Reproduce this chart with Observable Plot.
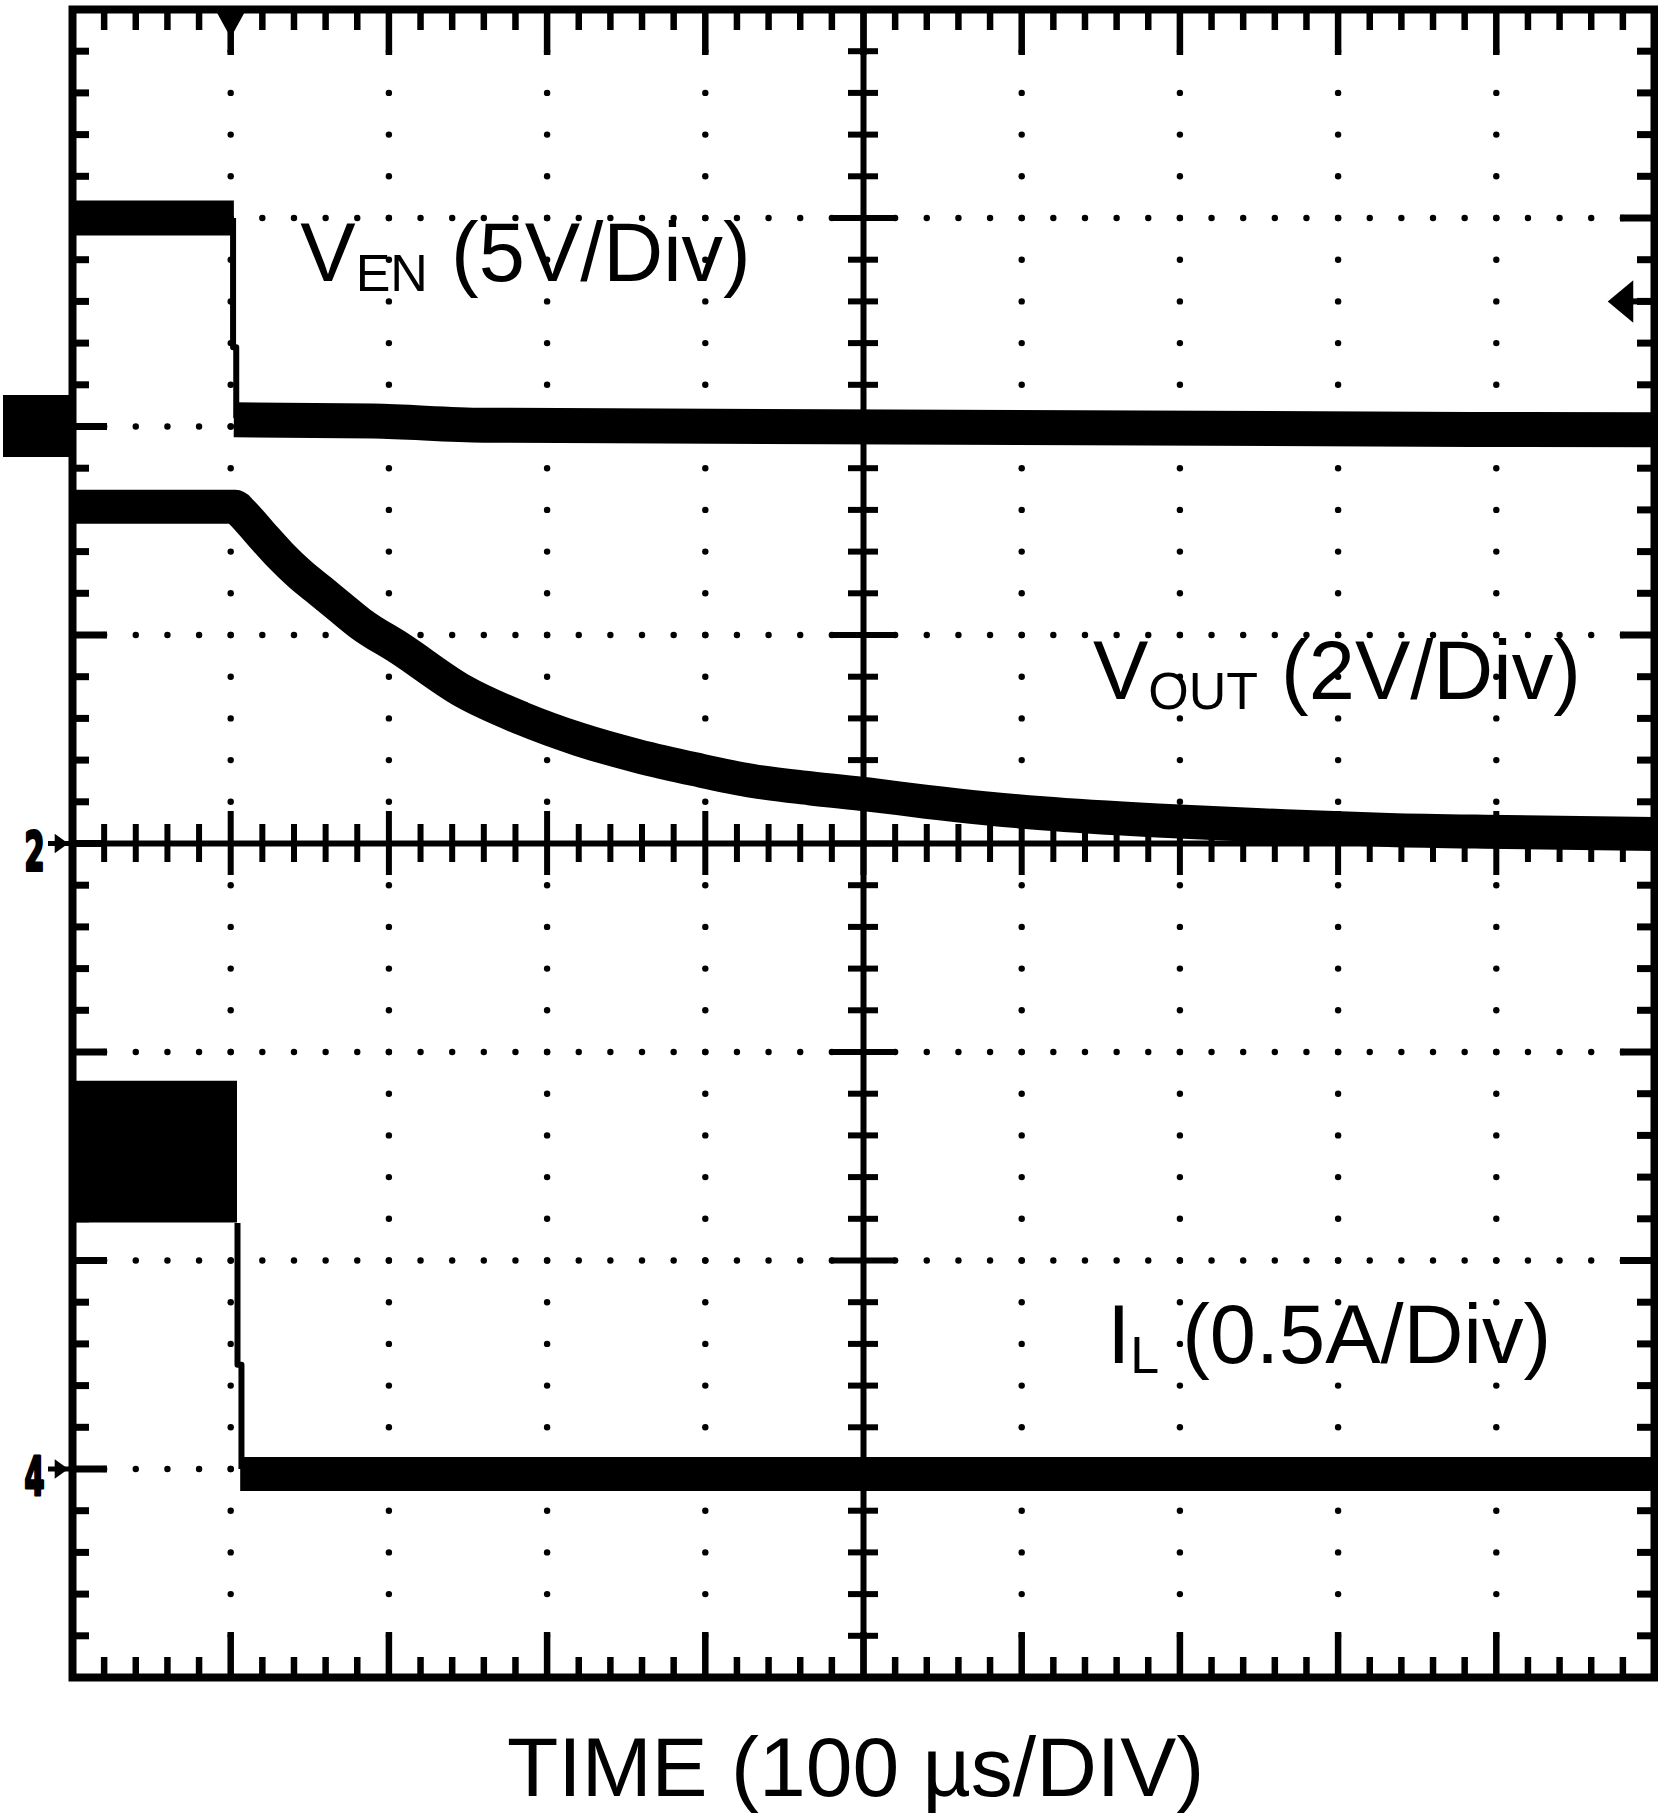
<!DOCTYPE html>
<html>
<head>
<meta charset="utf-8">
<script src="https://cdn.jsdelivr.net/npm/d3@7"></script>
<script src="https://cdn.jsdelivr.net/npm/@observablehq/plot@0.6"></script>
<style>
  html, body { margin: 0; padding: 0; background: #fff; }
  #chart svg { display: block; }
</style>
</head>
<body>
<div id="chart"></div>
<script>
// ---------------- data ----------------
// time axis: 100 µs/div, 10 divisions; vertical: 8 divisions
const timeSpanUs = 1000;
const divisionsY = 8;
const minorPerDiv = 5;

// channel markers (ground levels, in divisions from the centre line)
const channelNames = ["1", "2", "4"];
const channelGroundDiv = [2, 0, -3];
const channelPerDiv = [5, 2, 0.5];        // V/div, V/div, A/div
const triggerTimeUs = 100;
const triggerLevelV = 3.0;                // on channel 1 (VEN)

// VEN (V)
const vEnHighT = [0, 102];
const vEnHighV = [5.0, 5.0];
const vEnFallT = [101.5, 101.5, 103.5, 103.5];
const vEnFallV = [5.0, 1.9, 1.9, 0.2];
const vEnLowT = [102, 190, 260, 1000];
const vEnLowV = [0.16, 0.13, 0.03, -0.08];

// VOUT (V)
const vOutT = [0, 103, 106, 119, 131, 144, 157, 169, 182, 207, 247, 284, 320, 357, 394, 430, 466, 503, 540, 576, 613, 686, 760, 832, 906, 1000];
const vOutV = [3.23, 3.23, 3.19, 2.97, 2.77, 2.58, 2.42, 2.27, 2.11, 1.87, 1.46, 1.20, 1.00, 0.84, 0.71, 0.60, 0.53, 0.47, 0.40, 0.34, 0.29, 0.22, 0.17, 0.13, 0.11, 0.09];

// IL (A): ripple envelope while switching, then zero
const iLHighT = [0, 104.3];
const iLHighMin = [0.59, 0.59];
const iLHighMax = [0.93, 0.93];
const iLFallT = [104.3, 104.3, 106.8, 106.8];
const iLFallA = [0.59, 0.25, 0.25, 0.0];
const iLLowT = [106, 1000];
const iLLowA = [-0.012, -0.012];

// labels
const traceLabelMain = ["V", "V", "I"];
const traceLabelSub = ["EN", "OUT", "L"];
const traceLabelRest = [" (5V/Div)", " (2V/Div)", " (0.5A/Div)"];
const traceLabelT = [144, 645, 654];
const traceLabelDiv = [2.70, 0.695, -2.494];
const xTitle = "TIME (100 µs/DIV)";

// ---------------- layout ----------------
const W = 1658, H = 1815;
const mL = 72, mR = 4, mT = 9, mB = 138;
const pxX = (W - mL - mR) / timeSpanUs;   // px per µs
const pxY = (H - mT - mB) / divisionsY;   // px per division
const usPerDiv = timeSpanUs / 10;

const rows = (T, V) => T.map((t, i) => ({t, v: V[i]}));
const toDiv = ch => d => d.v / channelPerDiv[ch] + channelGroundDiv[ch];

const minorX = d3.range(0, 10 * minorPerDiv + 1).map(i => i * usPerDiv / minorPerDiv);
const minorY = d3.range(0, divisionsY * minorPerDiv + 1).map(i => -4 + i / minorPerDiv);
const innerX = minorX.filter(x => x > 0 && x < timeSpanUs);
const innerY = minorY.filter(y => y > -4 + 1e-9 && y < 4 - 1e-9);
const isMajorX = x => Math.abs(x / usPerDiv - Math.round(x / usPerDiv)) < 1e-6;
const isMajorY = y => Math.abs(y - Math.round(y)) < 1e-6;

const gridX = innerX.filter(isMajorX).filter(x => x !== timeSpanUs / 2);
const gridY = innerY.filter(isMajorY).filter(y => Math.abs(y) > 1e-9);
const gridDots = [];
for (const gx of gridX) for (const y of innerY) gridDots.push({x: gx, y});
for (const gy of gridY) for (const x of innerX) gridDots.push({x, y: gy});

// custom marker symbols
const triDown = {draw(c, size) { const s = Math.sqrt(size); c.moveTo(-0.55*s, -0.5*s); c.lineTo(0.55*s, -0.5*s); c.lineTo(0, 0.5*s); c.closePath(); }};
const triLeft = {draw(c, size) { const s = Math.sqrt(size); c.moveTo(-0.3*s, 0); c.lineTo(0.3*s, -0.5*s); c.lineTo(0.3*s, 0.5*s); c.closePath(); }};
const triRight = {draw(c, size) { const s = Math.sqrt(size); c.moveTo(0.35*s, 0); c.lineTo(-0.35*s, -0.5*s); c.lineTo(-0.35*s, 0.5*s); c.closePath(); }};

const markerRows = channelNames.map((name, i) => ({name, level: channelGroundDiv[i]}));
const boxMarker = markerRows.filter(d => d.name === "1");
const digitMarkers = markerRows.filter(d => d.name !== "1");
const labelRows = traceLabelMain.map((m, i) => ({text: m + traceLabelSub[i] + traceLabelRest[i], t: traceLabelT[i], y: traceLabelDiv[i]}));
const trigDiv = triggerLevelV / channelPerDiv[0] + channelGroundDiv[0];

const px2us = p => p / pxX;
const px2div = p => p / pxY;
const font = "'Liberation Sans', Arial, Helvetica, sans-serif";

const svg = Plot.plot({
  width: W, height: H,
  marginLeft: mL, marginRight: mR, marginTop: mT, marginBottom: mB,
  x: {domain: [0, timeSpanUs], axis: null},
  y: {domain: [-4, 4], axis: null},
  style: {background: "#fff", overflow: "visible"},
  marks: [
    // dotted graticule
    Plot.dot(gridDots, {x: "x", y: "y", r: 3.2, fill: "black", stroke: "none"}),
    // border ticks
    Plot.ruleX(innerX, {x: d => d, y1: 4, y2: d => 4 - px2div(isMajorX(d) ? 46 : 21), stroke: "black", strokeWidth: 6.5}),
    Plot.ruleX(innerX, {x: d => d, y1: -4, y2: d => -4 + px2div(isMajorX(d) ? 45 : 20), stroke: "black", strokeWidth: 6.5}),
    Plot.ruleY(innerY, {y: d => d, x1: 0, x2: d => px2us(isMajorY(d) ? 35 : 17), stroke: "black", strokeWidth: 7}),
    Plot.ruleY(innerY, {y: d => d, x1: timeSpanUs, x2: d => timeSpanUs - px2us(isMajorY(d) ? 34 : 17), stroke: "black", strokeWidth: 7}),
    // centre lines with cross ticks
    Plot.ruleX([timeSpanUs / 2], {stroke: "black", strokeWidth: 6}),
    Plot.ruleY([0], {stroke: "black", strokeWidth: 6}),
    Plot.ruleX(innerX, {x: d => d, y1: d => -px2div(isMajorX(d) ? 32 : 19), y2: d => px2div(isMajorX(d) ? 32 : 19), stroke: "black", strokeWidth: 6}),
    Plot.ruleY(innerY, {y: d => d, x1: d => timeSpanUs / 2 - px2us(isMajorY(d) ? 32 : 15), x2: d => timeSpanUs / 2 + px2us(isMajorY(d) ? 32 : 15), stroke: "black", strokeWidth: 6}),

    // VEN trace
    Plot.line(rows(vEnHighT, vEnHighV), {x: "t", y: toDiv(0), stroke: "black", strokeWidth: 35, strokeLinecap: "butt"}),
    Plot.line(rows(vEnFallT, vEnFallV), {x: "t", y: toDiv(0), stroke: "black", strokeWidth: 6, strokeLinecap: "butt"}),
    Plot.line(rows(vEnLowT, vEnLowV), {x: "t", y: toDiv(0), stroke: "black", strokeWidth: 35, strokeLinecap: "butt", strokeLinejoin: "round", curve: "monotone-x"}),
    // VOUT trace
    Plot.line(rows(vOutT, vOutV), {x: "t", y: toDiv(1), stroke: "black", strokeWidth: 34, strokeLinecap: "butt", strokeLinejoin: "round", curve: "monotone-x"}),
    // IL trace
    Plot.area(iLHighT.map((t, i) => ({t, lo: iLHighMin[i], hi: iLHighMax[i]})), {x1: "t", y1: d => toDiv(2)({v: d.lo}), y2: d => toDiv(2)({v: d.hi}), fill: "black"}),
    Plot.line(rows(iLFallT, iLFallA), {x: "t", y: toDiv(2), stroke: "black", strokeWidth: 6, strokeLinecap: "butt"}),
    Plot.line(rows(iLLowT, iLLowA), {x: "t", y: toDiv(2), stroke: "black", strokeWidth: 34, strokeLinecap: "butt"}),

    // frame
    Plot.frame({stroke: "black", strokeWidth: 8}),

    // channel markers
    Plot.rect(boxMarker, {x1: px2us(3 - mL), x2: 0, y1: d => d.level - px2div(31), y2: d => d.level + px2div(31), fill: "black"}),
    Plot.text(digitMarkers, {x: px2us(34 - mL), y: "level", text: "name", fontSize: 54, fontWeight: "bold", fontFamily: "'Liberation Sans Narrow', 'DejaVu Sans Condensed', " + font, textAnchor: "middle", lineAnchor: "middle", dy: 9, fill: "black", stroke: "black", strokeWidth: 3}),
    Plot.ruleY(digitMarkers, {y: "level", x1: px2us(48 - mL), x2: 0, stroke: "black", strokeWidth: 5}),
    Plot.dot(digitMarkers, {x: px2us(61 - mL), y: "level", r: 11, symbol: triRight, fill: "black", stroke: "none"}),
    // trigger markers
    Plot.dot([triggerTimeUs], {x: d => d, y: 4 - px2div(14), r: 16, symbol: triDown, fill: "black", stroke: "none"}),
    Plot.ruleY([trigDiv], {y: d => d, x1: timeSpanUs - px2us(30), x2: timeSpanUs, stroke: "black", strokeWidth: 6}),
    Plot.dot([trigDiv], {x: timeSpanUs - px2us(34), y: d => d, r: 24, symbol: triLeft, fill: "black", stroke: "none"}),

    // trace labels
    Plot.text(labelRows, {x: "t", y: "y", text: "text", fontSize: 83, fontFamily: font, textAnchor: "start", lineAnchor: "bottom", fill: "black"}),
    // axis title
    Plot.text([xTitle], {x: timeSpanUs / 2 - 5, y: -4 - px2div(1795 - 1677), text: d => d, fontSize: 84, fontFamily: font, textAnchor: "middle", lineAnchor: "bottom", fill: "black"})
  ]
});

// subscripts for the trace labels
d3.select(svg).selectAll("text").each(function () {
  const s = this.textContent;
  const i = traceLabelMain.findIndex((m, k) => m + traceLabelSub[k] + traceLabelRest[k] === s);
  if (i >= 0) {
    const t = d3.select(this);
    t.text(null);
    t.append("tspan").text(traceLabelMain[i]);
    t.append("tspan").attr("font-size", 52).attr("dy", 10).text(traceLabelSub[i]);
    t.append("tspan").attr("dy", -10).text(traceLabelRest[i]);
  } else if (s === "2" || s === "4") {
    d3.select(this).attr("textLength", 20).attr("lengthAdjust", "spacingAndGlyphs");
  }
});

document.getElementById("chart").appendChild(svg);
</script>
</body>
</html>
